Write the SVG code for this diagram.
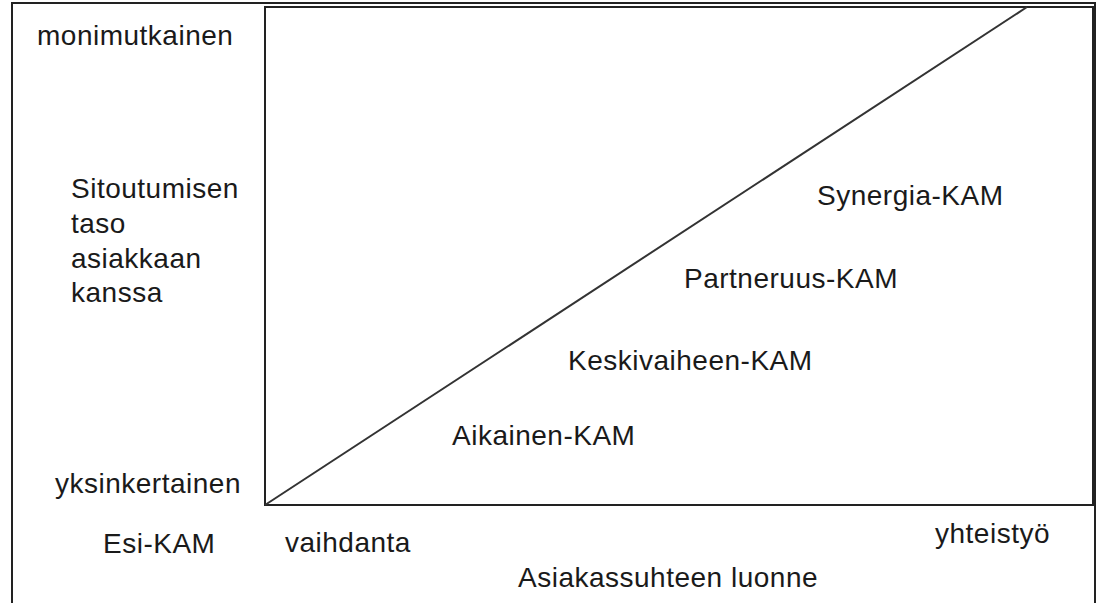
<svg xmlns="http://www.w3.org/2000/svg" width="1097" height="603" viewBox="0 0 1097 603">
  <style>
    .lbl { font-family: "Liberation Sans", Arial, sans-serif; font-size: 28px; letter-spacing: 0.5px; fill: #1a1a1a; }
    .frame { fill: none; stroke: #222; stroke-width: 2; }
    .edge { fill: none; stroke: #333; stroke-width: 2; }
  </style>
  <rect width="1097" height="603" fill="#fff"/>
  <!-- outer border (open at the bottom) -->
  <path class="frame" d="M12,603 V3 H1095 V603"/>
  <!-- chart area -->
  <g id="chart">
    <rect class="frame" x="265" y="7" width="828" height="498"/>
  </g>
  <g id="connectors">
    <line class="edge" x1="265" y1="505" x2="1027" y2="7"/>
  </g>
  <!-- vertical axis labels -->
  <g id="y-axis">
    <text class="lbl" x="37" y="45">monimutkainen</text>
    <text class="lbl" x="71" y="198">Sitoutumisen</text>
    <text class="lbl" x="71" y="233">taso</text>
    <text class="lbl" x="71" y="268">asiakkaan</text>
    <text class="lbl" x="71" y="302">kanssa</text>
    <text class="lbl" x="55" y="493">yksinkertainen</text>
  </g>
  <!-- horizontal axis labels -->
  <g id="x-axis">
    <text class="lbl" x="103" y="553">Esi-KAM</text>
    <text class="lbl" x="285" y="552">vaihdanta</text>
    <text class="lbl" x="935" y="543">yhteistyö</text>
    <text class="lbl" x="518" y="587">Asiakassuhteen luonne</text>
  </g>
  <!-- stages -->
  <g id="stage-aikainen"><text class="lbl" x="452" y="445">Aikainen-KAM</text></g>
  <g id="stage-keskivaihe"><text class="lbl" x="568" y="370">Keskivaiheen-KAM</text></g>
  <g id="stage-partneruus"><text class="lbl" x="684" y="288">Partneruus-KAM</text></g>
  <g id="stage-synergia"><text class="lbl" x="817" y="205">Synergia-KAM</text></g>
</svg>
